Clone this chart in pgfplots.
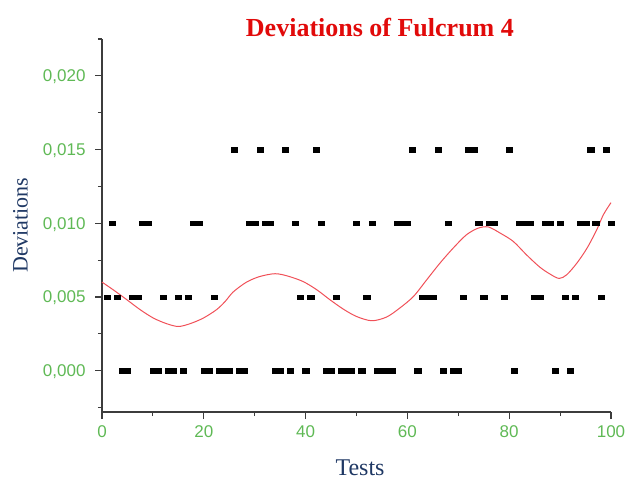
\documentclass[border=0pt]{standalone}
\usepackage{pgfplots}
\pgfplotsset{compat=1.18}
\usepackage{fontspec}
\setmainfont{Liberation Serif}
\setsansfont{Liberation Sans}
\definecolor{titlered}{RGB}{225,10,10}
\definecolor{labelblue}{RGB}{31,56,100}
\definecolor{tickgreen}{RGB}{95,185,85}
\definecolor{axisgray}{RGB}{60,60,60}
\definecolor{curvered}{RGB}{240,80,88}
\begin{document}
\begin{tikzpicture}
\path[use as bounding box] (0,0) rectangle (638pt,491pt);
\begin{axis}[
  at={(102pt,79pt)}, anchor=south west,
  scale only axis, width=509pt, height=373pt,
  xmin=0, xmax=100, ymin=-0.0028, ymax=0.0225,
  axis lines*=left,
  axis line style={axisgray, line width=1.2pt},
  tick align=outside,
  major tick length=7pt, minor tick length=4pt,
  every tick/.style={axisgray, line width=1.1pt},
  xtick={0,20,40,60,80,100},
  minor xtick={10,30,50,70,90},
  ytick={0,0.005,0.010,0.015,0.020},
  minor ytick={-0.0025,0.0025,0.0075,0.0125,0.0175,0.0225},
  scaled y ticks=false,
  /pgf/number format/assume math mode=true,
  yticklabel style={/pgf/number format/.cd, fixed, fixed zerofill, precision=3, use comma,
    /tikz/.cd, xshift=-6pt, yshift=-1pt},
  xticklabel style={yshift=-3pt},
  tick label style={font=\fontsize{17}{20}\selectfont\sffamily, text=tickgreen},
  title={Deviations of Fulcrum 4},
  title style={at={(axis description cs:0.546,1.015)}, anchor=center,
    font=\fontsize{26}{30}\selectfont\bfseries, text=titlered},
  xlabel={Tests},
  xlabel style={at={(axis description cs:0.507,-0.150)}, anchor=center,
    font=\fontsize{24}{28}\selectfont, text=labelblue},
  ylabel={Deviations},
  ylabel style={at={(axis description cs:-0.160,0.501)}, anchor=center,
    font=\fontsize{22}{26}\selectfont, text=labelblue},
  clip=false,
]
\addplot[only marks, mark=square*, mark size=2.3pt,
  mark options={xscale=1.35, black, draw=black, fill=black, line width=0.3pt}] coordinates {
(4,0) (5,0) (10,0) (11,0) (13,0) (14,0) (16,0) (20,0) (21,0) (23,0) (24,0) (25,0)
(27,0) (28,0) (34,0) (35,0) (37,0) (40,0) (44,0) (45,0) (47,0) (48,0) (49,0) (51,0)
(54,0) (55,0) (56,0) (57,0) (62,0) (67,0) (69,0) (70,0) (81,0) (89,0) (92,0)
(1,0.005) (3,0.005) (6,0.005) (7,0.005) (12,0.005) (15,0.005) (17,0.005) (22,0.005)
(39,0.005) (41,0.005) (46,0.005) (52,0.005) (63,0.005) (64,0.005) (65,0.005)
(71,0.005) (75,0.005) (79,0.005) (85,0.005) (86,0.005) (91,0.005) (93,0.005) (98,0.005)
(2,0.010) (8,0.010) (9,0.010) (18,0.010) (19,0.010) (29,0.010) (30,0.010) (32,0.010)
(33,0.010) (38,0.010) (43,0.010) (50,0.010) (53,0.010) (58,0.010) (59,0.010) (60,0.010)
(68,0.010) (74,0.010) (76,0.010) (77,0.010) (82,0.010) (83,0.010) (84,0.010) (87,0.010)
(88,0.010) (90,0.010) (94,0.010) (95,0.010) (97,0.010) (100,0.010)
(26,0.015) (31,0.015) (36,0.015) (42,0.015) (61,0.015) (66,0.015) (72,0.015) (73,0.015)
(80,0.015) (96,0.015) (99,0.015)
};
\addplot[curvered, line width=1pt, smooth, no marks] coordinates {
(0,0.00601) (2.2,0.00549) (4.9,0.00481) (7.5,0.00414) (10.1,0.00357) (12.7,0.00319)
(15.0,0.00300) (17.3,0.00319) (19.9,0.00357) (22.5,0.00414) (24.2,0.00470) (25.8,0.00535)
(28.4,0.00601) (31.0,0.00639) (34.0,0.00658) (36.5,0.00642) (39.5,0.00605) (42.2,0.00549)
(44.8,0.00481) (47.4,0.00418) (50.0,0.00368) (53.0,0.00339) (55.9,0.00364) (58.5,0.00425)
(61.2,0.00504) (63.8,0.00617) (66.4,0.00730) (69.0,0.00832) (71.6,0.00922) (73.9,0.00967)
(75.9,0.00975) (78.2,0.00934) (80.8,0.00877) (83.4,0.00786) (86.0,0.00703) (88.0,0.00656)
(89.8,0.00626) (91.3,0.00651) (93.3,0.00730) (95.3,0.00832) (97.2,0.00956) (98.5,0.01058)
(100,0.01140)
};
\end{axis}
\end{tikzpicture}
\end{document}
